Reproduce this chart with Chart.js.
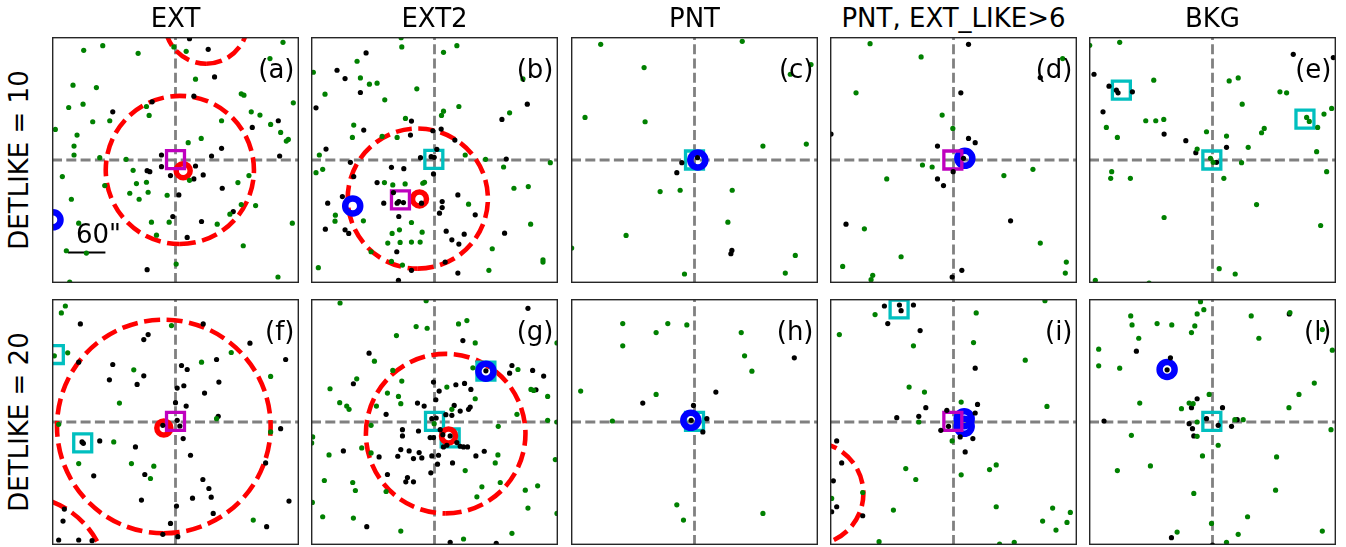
<!DOCTYPE html>
<html><head><meta charset="utf-8">
<script src="https://cdn.jsdelivr.net/npm/chart.js@4.4.1/dist/chart.umd.min.js"></script>
<style>
html,body{margin:0;padding:0;background:#fff;}
body{width:1346px;height:547px;position:relative;overflow:hidden;font-family:"DejaVu Sans",sans-serif;}
canvas{position:absolute;display:block;}
.txt{position:absolute;font-size:26px;line-height:26px;color:#000;white-space:nowrap;}
</style></head><body>
<script>
// ---------------- DATA (offsets from the target, arcsec-like units) ----------------
const panelIds = ['a','b','c','d','e','f','g','h','i','l'];
const columnTitles = ['EXT','EXT2','PNT','PNT, EXT_LIKE>6','BKG'];
const rowLabels = ['DETLIKE = 10','DETLIKE = 20'];
const axisLimit = 185;
const scaleBarLabel = '60"';
const scaleBar = [-161, -105, -139];   // x from, x to, y (panel a)

const greenA = [[-137.5,165],[-109,172],[-56,160.5],[-2.5,170],[16,163.5],[161,177],[141.5,152.5],[30,121.5],[-153.5,112.5],[-118.5,109],[98.5,99.5],[102.5,97.5],[176.5,86],[-160,79],[-138.5,84],[-43.5,80.5],[-39.5,67],[-98.5,59],[-124,57.5],[113.5,72.5],[126.5,67.5],[69,59],[142.5,53.5],[-180,46],[-147.5,37.5],[-152,21],[-152,7.5],[38.5,32.5],[19,26],[157.5,41.5],[169,31],[166,28.5],[-113.5,3.5],[-74,1],[110,-23.5],[-169.5,-25],[-63.5,-15.5],[-58.5,-35.5],[-43.5,-33.5],[-106,-38.5],[-68.5,-50],[-41,-48.5],[-54.5,-59],[-12.5,-53],[21,-30.5],[93.5,-34],[-156,-59],[98.5,-67],[120,-68.5],[81.5,-81.5],[62.5,-96.5],[-9.5,-93.5],[-36,-93.5],[-28.5,-113],[-145,-95],[-163.5,-136.5],[-133.5,-140],[101.5,-129],[175,-95],[1,-156.5],[153.5,-176],[-158.5,-183.5]];
const blackA = [[21,182.5],[49,166.5],[58.5,125],[27.5,96],[-35,87.5],[-94,72.5],[154,59],[115,49],[69,17.5],[54,6],[156,6],[-21,7.5],[-21,-10],[-7.5,-23.5],[-42.5,-16],[-38.5,-17.5],[30,-9],[41.5,-22.5],[27.5,-28.5],[5,-52.5],[70,-42.5],[86.5,-77.5],[39,-92.5],[-4,-85],[17.5,-116.5],[-42.5,-165]];

const greenB = [[-49,170],[33.5,172],[13.5,162],[-181.5,132],[-116,148.5],[-111,123.5],[-97.5,114],[-86,115.5],[-164,99],[-26.5,107],[-74.5,90.5],[132.5,122],[36.5,80.5],[13.5,73.5],[10.5,67],[112.5,71],[-43.5,62.5],[-121,52.5],[-123,34],[-78.5,35.5],[-56,34],[-172.5,7.5],[46,7.5],[76.5,1],[103.5,-10.5],[173.5,-4],[-177.5,-19],[-167.5,-14],[-75,-34],[-62.5,-37.5],[-44,-36],[-17.5,-35],[-15,-33.5],[119,-42.5],[140.5,-40],[51,-66.5],[-148.5,-83],[-149,-92],[-106.5,-91.5],[-34.5,-94],[-52.5,-105],[-18.5,-108.5],[-63.5,-110.5],[-70,-125],[-51.5,-124],[-34.5,-123.5],[-21.5,-123.5],[144,-96.5],[86.5,-133.5],[-95,-138],[-64.5,-152.5],[-48,-158],[81.5,-166],[162.5,-150],[162.5,-153.5],[-174,-162],[-50,184]];
const blackB = [[-102.5,161],[-146,135],[-134,122.5],[-111,101.5],[-177.5,78.5],[139,84],[101,61],[-34.5,58.5],[-106,45],[-36,37.5],[10,46.5],[30.5,30],[-2.5,44],[-162.5,16.5],[-21,3.5],[-5,5],[-0.5,4],[3.5,16],[-126,-3.5],[107.5,1.5],[-64.5,-11],[-46,-13],[-1.5,-21],[-121,-25],[-86,-34],[-61.5,-49],[-53.5,-62.5],[-56,-65],[-46.5,-64],[35,-52.5],[11.5,-62.5],[11.5,-71.5],[7.5,-80],[-19.5,-65],[-138,-55],[-160,-65],[-134,-105],[-163.5,-104],[-76,-65],[-53.5,-85],[61,-82.5],[17.5,-107],[44.5,-111.5],[26,-120],[36.5,-126.5],[105,-110],[-128.5,-110.5],[-56.5,-138],[16,-153.5],[-34.5,-166],[35,-170],[-54,-181]];

const greenC = [[-140.5,174],[71.5,178.5],[-75.5,139],[143.5,129],[174.5,143.5],[-164,64],[-74,57.5],[102.5,21],[167.5,24],[-51.5,-47.5],[-21.5,-45.5],[56.5,-45.5],[50,-93.5],[-102.5,-113.5],[-184,-132.5],[151,-143.5],[136,-170],[-15,-171.5]];
const blackC = [[-26.5,-19],[-19,-4],[56,-136],[54.5,-141],[4.5,3.5]];

const greenD = [[-125,175],[-48.5,155],[163.5,152.5],[-146,101],[-17,67.5],[-1,47.5],[-46.5,-7.5],[-32,-10.5],[-100,-28.5],[75.5,-23.5],[119,-14],[-133.5,-103.5],[130,-125],[-78.5,-145.5],[-166,-160],[-121,-173.5],[-123.5,-180],[169,-153.5],[167.5,-170]];
const blackD = [[22.5,174],[130,124],[11,101],[-183.5,39],[22.5,32.5],[32.5,26],[-24,21],[-0.5,-17.5],[-24,-28.5],[-15,-38.5],[-161,-96.5],[85.5,-91.5],[12.5,-166],[-2,-176],[15,2.5]];

const greenE = [[-184,172.5],[-139,177],[-88,120],[25,119],[38.5,123.5],[101,102.5],[111,101],[44.5,84],[-100,59],[-85,59],[-73,61],[-159,49],[-142.5,34],[-9,42.5],[21,36],[73.5,41],[77.5,47.5],[53.5,19],[-23,16.5],[-3,2.5],[1,-3.5],[43.5,-4],[156,12.5],[167,69],[178.5,77.5],[157.5,49],[141,64],[145,58],[-151,-17.5],[-152.5,-27.5],[-123,-27.5],[17,-27.5],[171,-17.5],[66,-67],[-72.5,-86.5],[162,-98.5],[10,-163.5],[34,-171.5],[-175.5,-181],[-95,-185]];
const blackE = [[121,159],[181,154],[-177.5,129],[-155,111],[-144,105],[-141.5,101],[-120,102.5],[-164,72.5],[-72.5,39],[-40,29],[21,19],[-25,11],[6,-3.5]];

const greenF = [[-165,174.5],[-171,164],[-6,145],[-161.5,104],[-181.5,99.5],[83.5,104.5],[39,90],[-62.5,78.5],[142.5,68.5],[-84,28.5],[61.5,5],[-175,-3.5],[142.5,-15],[-92.5,-30],[-145,-62.5],[-66,-62.5],[-32.5,-66.5],[-37.5,-85],[116.5,-147.5]];
const blackF = [[-142.5,147.5],[41.5,147.5],[-41,131.5],[-47.5,124],[111.5,118.5],[61.5,94],[165,94],[-145,90],[-94,86.5],[9,85],[17.5,79],[-47.5,69.5],[-99,63.5],[-57.5,56.5],[65,60],[2.5,51],[12.5,54.5],[43.5,43.5],[0,29],[16,24],[64,8.5],[2.5,2.5],[6.5,-6],[-19,-5],[11.5,-25],[-113.5,-28.5],[-140,-30],[-138,-32],[-60,-37.5],[22.5,-50],[135,-61.5],[157.5,-10],[-122.5,-81],[-46,-79],[41,-86.5],[50,-100],[53.5,-113],[25.5,-114.5],[-51,-117.5],[1.5,-126.5],[170,-119],[56.5,-137.5],[-166.5,-131],[-168.5,-149],[-7.5,-152.5],[136.5,-157.5],[-19,-169],[3.5,-172.5],[-175,-177.5],[-145,-177.5],[-125,-178.5]];

const greenG = [[-141.5,179],[-12.5,182.5],[-27.5,143.5],[-11,141],[36,147.5],[48.5,152.5],[-57,130],[61,119],[183.5,119],[-90,91.5],[57.5,81.5],[125,79],[-62.5,77.5],[-116.5,65],[-49,61.5],[-156.5,50],[-70.5,43.5],[18.5,52.5],[-54,38.5],[-50.5,27.5],[61,35],[-142,29],[-131.5,24],[-128,19],[-87,24],[26,19],[-0.5,-2.5],[123.5,11.5],[169.5,2.5],[183.5,0],[-95,-5],[95.5,-6.5],[144.5,49],[148.5,47.5],[169.5,38.5],[-182.5,-22.5],[-184,-31.5],[-109,-39],[-95,-46.5],[-158,-49.5],[95,-49.5],[91,-61.5],[181,-56.5],[46,-73],[-165,-88],[-122.5,-91],[-118.5,-103],[-72.5,-104.5],[71,-97.5],[98.5,-91],[154.5,-96],[136,-102.5],[63.5,-112.5],[140,-129.5],[183.5,-137.5],[-167.5,-142.5],[-121.5,-144.5],[-183,-121],[-50.5,-164],[43.5,-176],[116,-167.5]];
const blackG = [[140,171],[42.5,122.5],[-98,103.5],[116,85],[112.5,73.5],[147,77.5],[163.5,69],[152,48.5],[-121.5,57.5],[-1.5,60],[32,56],[45,58],[7,46.5],[54.5,49],[2,33.5],[-25.5,28.5],[-15.5,24],[29.5,25],[38.5,16.5],[51,19],[53.5,22.5],[26,10],[17,11],[-72.5,11.5],[-4,5],[2.5,6],[-48,-11.5],[-48,-21],[-24,-13.5],[-6.5,-23.5],[-1.5,-23.5],[8.5,-11.5],[12.5,-19],[23.5,-21],[33.5,-31],[38.5,-36.5],[43.5,-37.5],[49.5,-37.5],[13.5,-37.5],[18.5,-35],[-38,-43.5],[-50.5,-41.5],[-23,-46],[-19,-54],[-4,-51],[6,-50],[-83,-52.5],[-55,-51.5],[-31.5,-55],[-136.5,-43.5],[74.5,-44],[62,-51],[27,-61.5],[4.5,-63.5],[-5.5,-76.5],[-70.5,-79],[-40.5,-83.5],[-43,-90],[-31.5,-90],[-101.5,-157.5],[23.5,-181],[92.5,-182.5],[77,77]];

const greenH = [[-107.5,148],[-107.5,114.5],[-57.5,134.5],[-40,148],[-11.5,146],[70,134.5],[75,99.5],[86,76.5],[-170.5,46.5],[-57.5,41.5],[-123,1.5],[-26.5,-124.5],[-16.5,-147.5],[102.5,-137.5]];
const blackH = [[149.5,96.5],[32,45],[-77.5,28.5],[-1.5,25],[18.5,5],[12.5,-15],[-5,2.5]];

const greenI = [[137,182.5],[-117.5,161.5],[34,164],[-171,131.5],[30,119.5],[-60,114.5],[107.5,93],[-66.5,52.5],[-43.5,45],[11.5,30],[140,23.5],[-52,0],[-2,-28.5],[64,-64.5],[54,-71.5],[-71.5,-70],[-56.5,-86.5],[11.5,-79.5],[-136,-106],[-182.5,-115],[-90,-132.5],[64,-127.5],[148.5,-129.5],[175,-136],[170,-151],[133.5,-149],[153.5,-162.5],[-111.5,-180],[69,-183.5],[91,-181]];
const blackI = [[-103.5,174.5],[-81,176],[-60,176],[-78.5,167.5],[-98.5,148],[-50,137.5],[32.5,81],[-41.5,21.5],[-85,6.5],[-52,8.5],[-10,17.5],[36,26.5],[32.5,13.5],[-19,-12.5],[-7.5,-6.5],[10,-22.5],[29,-25],[17.5,-45],[-175,-28.5],[-167.5,-61.5],[-180,-88.5],[-175,-127.5],[-182.5,-135],[-136,-141]];

const greenL = [[-18,181],[-13,169],[-23,162.5],[-122.5,159.5],[-120.5,146],[-83,148],[-61,146],[-26.5,144.5],[-31.5,134.5],[58,159.5],[116,164.5],[164.5,139],[69.5,126],[-110.5,126],[-170.5,109.5],[179.5,108],[-170.5,84.5],[-139,81],[152.5,58.5],[129.5,41.5],[-5,41.5],[-109,28.5],[-35,28.5],[-29,27.5],[-46.5,20],[114.5,21.5],[-23,0],[33.5,3.5],[46,3.5],[177.5,-11.5],[-121.5,-20],[-23,-21.5],[8.5,-35],[-15,-51],[96,-52.5],[-93,-66],[-142.5,-73],[-28,-107.5],[94.5,-102.5],[52.5,-142.5],[-1.5,-152.5],[-53,-165.5],[38.5,-169],[21,-181],[164.5,-164]];
const blackL = [[115,162.5],[-114,106.5],[-63,96.5],[-68,78.5],[-23,35],[-31.5,21.5],[15,21.5],[-162.5,1.5],[-9,5],[-35,-2.5],[-30,-10],[-28,-21],[28.5,-6.5],[37,3.5],[8.5,-5],[-61.5,-174],[0,-185]];

const greenSets = [greenA, greenB, greenC, greenD, greenE, greenF, greenG, greenH, greenI, greenL];
const blackSets = [blackA, blackB, blackC, blackD, blackE, blackF, blackG, blackH, blackI, blackL];

// markers: [panel, x, y]
const magentaSquares = [['a',0,0.5],['b',-51,-60],['d',-1,0],['f',0,1],['i',-1,1]];
const redRings = [['a',11.5,-16],['b',-22.5,-58.5],['f',-17.5,-9],['g',21,-21]];
const blueRings = [['a',-183.5,-90],['b',-122.5,-69],['c',5,0],['d',17,2.5],['g',77,76.5],['h',-5.5,2.5],['i',16,5],['i',16,-6.5],['l',-68,79]];
const cyanSquares = [['b',-1,1],['c',0,0],['e',-136.5,105],['e',138.5,61.5],['e',-1,0],['f',-139,-31.5],['f',-181.5,101.5],['g',0,1],['g',23.5,-24],['g',77,76.5],['h',0,1],['i',-81.5,170],['l',-1,1]];
// dashed extent circles: [panel, x, y, radius]
const dashedCircles = [['a',6.5,-15,111],['a',46,207,62],['b',-25,-58,105],['f',-17.5,-6.75,160],['f',-232.5,-242.5,131],['g',16.75,-17.5,119.5],['i',-212,-107.5,77]];

// ---------------- LAYOUT ----------------
const colLeft = [52, 311, 571, 830, 1089];
const rowTop = [37, 299];
const PW = 247, PH = 246;

function addText(str, left, top, extra) {
  const d = document.createElement('div');
  d.className = 'txt';
  d.textContent = str;
  d.style.left = left + 'px';
  d.style.top = top + 'px';
  if (extra) Object.assign(d.style, extra);
  document.body.appendChild(d);
  return d;
}

const overlay = {
  id: 'overlay',
  beforeDatasetsDraw(chart) {
    const id = chart.canvas.dataset.panel;
    const {ctx, chartArea: ca} = chart;
    const xs = chart.scales.x, ys = chart.scales.y;
    ctx.save();
    ctx.beginPath();
    ctx.rect(ca.left, ca.top, ca.right - ca.left, ca.bottom - ca.top);
    ctx.clip();
    const x0 = xs.getPixelForValue(0), y0 = ys.getPixelForValue(0);
    ctx.strokeStyle = '#808080';
    ctx.lineWidth = 2.8;
    ctx.setLineDash([10, 4.3]);
    ctx.beginPath(); ctx.moveTo(x0, ca.bottom); ctx.lineTo(x0, ca.top); ctx.stroke();
    ctx.beginPath(); ctx.moveTo(ca.left, y0); ctx.lineTo(ca.right, y0); ctx.stroke();
    ctx.strokeStyle = '#ff0000';
    ctx.lineWidth = 4.6;
    ctx.setLineDash([16, 6.6]);
    dashedCircles.filter(c => c[0] === id).forEach(c => {
      const cx = xs.getPixelForValue(c[1]), cy = ys.getPixelForValue(c[2]);
      const r = Math.abs(xs.getPixelForValue(c[1] + c[3]) - cx);
      ctx.beginPath();
      ctx.arc(cx, cy, r, Math.PI / 2 + 2 * Math.PI, Math.PI / 2, true);
      ctx.stroke();
    });
    if (id === 'a') {
      ctx.setLineDash([]);
      ctx.strokeStyle = '#000000';
      ctx.lineWidth = 2;
      const by = ys.getPixelForValue(scaleBar[2]);
      ctx.beginPath();
      ctx.moveTo(xs.getPixelForValue(scaleBar[0]), by);
      ctx.lineTo(xs.getPixelForValue(scaleBar[1]), by);
      ctx.stroke();
    }
    ctx.restore();
  },
  afterDraw(chart) {
    const {ctx, chartArea: ca} = chart;
    ctx.save();
    ctx.strokeStyle = '#262626';
    ctx.lineWidth = 1.4;
    ctx.strokeRect(ca.left + 0.7, ca.top + 0.7, ca.right - ca.left - 1.4, ca.bottom - ca.top - 1.4);
    ctx.restore();
  }
};

function pts(arr) { return arr.map(p => ({x: p[0], y: p[1]})); }
function pick(list, id) { return list.filter(m => m[0] === id).map(m => ({x: m[1], y: m[2]})); }

const clear = 'rgba(0,0,0,0)';

panelIds.forEach((id, k) => {
  const col = k % 5, row = Math.floor(k / 5);
  const cv = document.createElement('canvas');
  cv.width = PW; cv.height = PH;
  cv.dataset.panel = id;
  cv.style.left = colLeft[col] + 'px';
  cv.style.top = rowTop[row] + 'px';
  cv.style.width = PW + 'px';
  cv.style.height = PH + 'px';
  document.body.appendChild(cv);

  const dot = (data, color) => ({data: pts(data), pointStyle: 'circle', pointRadius: 2.6,
    pointBackgroundColor: color, pointBorderWidth: 0, pointBorderColor: color, clip: 0});
  const ring = (data, color, r, w, style) => ({data, pointStyle: style, pointRadius: r,
    pointBackgroundColor: clear, pointBorderColor: color, pointBorderWidth: w, clip: 0});

  new Chart(cv, {
    type: 'scatter',
    data: {datasets: [
      dot(greenSets[k], '#008000'),
      dot(blackSets[k], '#000000'),
      ring(pick(magentaSquares, id), '#bf00bf', 12.7, 3.3, 'rect'),
      ring(pick(redRings, id), '#ff0000', 7, 5.5, 'circle'),
      ring(pick(blueRings, id), '#0000ff', 7.5, 6.5, 'circle'),
      ring(pick(cyanSquares, id), '#00bfbf', 12.7, 3.3, 'rect')
    ]},
    options: {
      responsive: false, animation: false, events: [],
      layout: {padding: 0, autoPadding: false},
      scales: {
        x: {type: 'linear', min: -axisLimit, max: axisLimit, display: false},
        y: {type: 'linear', min: -axisLimit, max: axisLimit, display: false}
      },
      plugins: {legend: {display: false}, tooltip: {enabled: false}}
    },
    plugins: [overlay]
  });

  // panel letter
  addText('(' + id + ')', colLeft[col] + PW - 4.5, rowTop[row] + 18.5, {transform: 'translateX(-100%)'});
});

// column titles
columnTitles.forEach((t, c) => {
  addText(t, colLeft[c] + PW / 2, 5.3, {transform: 'translateX(-50%)'});
});
// row labels
rowLabels.forEach((t, r) => {
  addText(t, 19.3, rowTop[r] + PH / 2, {transform: 'translate(-50%,-50%) rotate(-90deg)'});
});
// scale bar label
addText(scaleBarLabel, 76, 221.3);
</script>
</body></html>
